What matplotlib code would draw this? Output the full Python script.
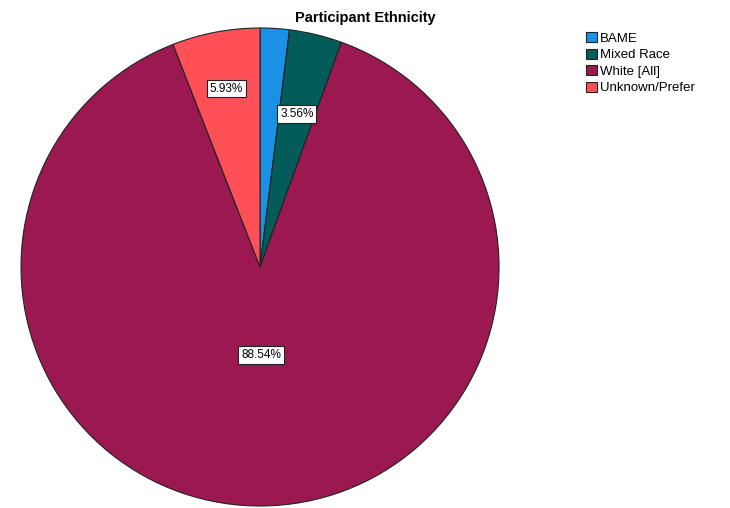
import matplotlib.pyplot as plt
import numpy as np

plt.rcParams['font.family'] = ['Liberation Sans', 'DejaVu Sans']

groups = ['BAME', 'Mixed Race', 'White [All]', 'Unknown/Prefer']
shares = [1.97, 3.56, 88.54, 5.93]
colors = ['#1b91e6', '#045c5a', '#9c1851', '#ff5058']
show_label = [False, True, True, True]
label_r = [0.7, 0.66, 0.37, 0.76]

fig = plt.figure(figsize=(7.3, 5.08), dpi=100)
ax = fig.add_axes([0.0288, 0.0039, 0.6548, 0.941])

wedges, _ = ax.pie(shares, colors=colors, startangle=90, counterclock=False,
                   radius=1, wedgeprops=dict(edgecolor='#222222', linewidth=0.8))
ax.set_xlim(-1, 1)
ax.set_ylim(-1, 1)
ax.set_aspect('equal')

for w, v, show, r in zip(wedges, shares, show_label, label_r):
    if not show:
        continue
    mid = np.deg2rad((w.theta1 + w.theta2) / 2)
    ax.text(r * np.cos(mid), r * np.sin(mid), '%.2f%%' % v, ha='center', va='center',
            fontsize=8.5, bbox=dict(boxstyle='square,pad=0.25', fc='white', ec='#222222', lw=0.8))

fig.text(0.5, 0.965, 'Participant Ethnicity', ha='center', va='center',
         fontsize=10.5, fontweight='bold')

leg = fig.legend(wedges, groups, loc='upper left', bbox_to_anchor=(0.803, 0.937),
                 frameon=False, fontsize=9.5, handlelength=0.8, handleheight=0.8,
                 handletextpad=0.25, labelspacing=0.3, borderaxespad=0, borderpad=0)
for h in leg.legend_handles:
    h.set_edgecolor('#222222')
    h.set_linewidth(0.8)

fig.savefig('out.png', dpi=100)
